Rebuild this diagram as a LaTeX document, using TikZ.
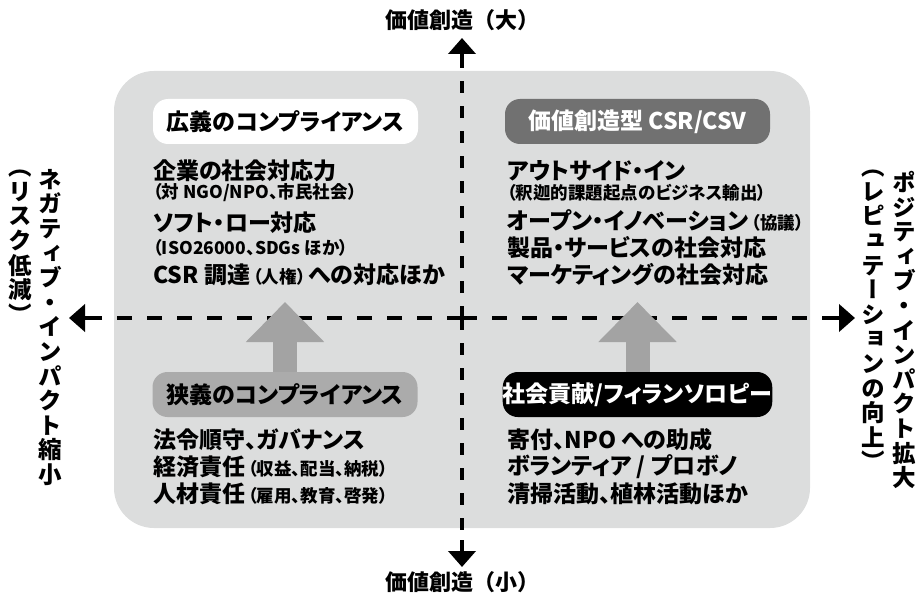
\documentclass[tikz,border=0pt]{standalone}
\usepackage{fontspec}
\setmainfont{Noto Sans CJK JP}[RawFeature=+palt]
\newfontfamily\fwfont{Noto Sans CJK JP}
\newfontfamily\vtfont{Noto Sans CJK JP}[RawFeature=+vert]
\usetikzlibrary{arrows.meta}
\definecolor{bggray}{HTML}{DCDDDD}
\definecolor{darklab}{HTML}{717171}
\definecolor{midlab}{HTML}{ABABAB}
\definecolor{arrowgray}{HTML}{A3A3A3}
\newcommand\szL{\fontsize{23pt}{27pt}\selectfont}
\newcommand\szS{\fontsize{17.5pt}{21pt}\selectfont}
\newcommand\szT{\fontsize{22pt}{26pt}\selectfont}
\newcommand\szV{\fontsize{23.5pt}{24.6pt}\selectfont}
\newcommand\smallparen[1]{\kern3pt{\szS（#1）}\kern3pt}
\tikzset{
  lab/.style={rounded corners=15pt, minimum width=265pt, minimum height=45pt, inner sep=0pt, font=\bfseries\szL},
  txt/.style={anchor=west, inner sep=0pt, font=\bfseries\szL},
  stxt/.style={anchor=west, inner sep=0pt, font=\bfseries\szS},
  vtext/.style={anchor=north, align=center, inner sep=0pt, font=\vtfont\bfseries\szV},
  axisline/.style={line width=4.5pt, black},
  tip/.style={-{Triangle[length=16pt,width=27pt]}},
  uparrow/.style={line width=24pt, arrowgray, -{Triangle[length=40pt,width=76pt]}},
}
\begin{document}
\begin{tikzpicture}[x=1pt,y=-1pt]
\useasboundingbox (0,0) rectangle (921,604);
% background panel
\fill[bggray, rounded corners=40pt] (114,71) rectangle (810,528);

% axes
\coordinate (O) at (462,318);
\coordinate (L) at (69,318);
\coordinate (Ls) at (97,318);
\coordinate (R) at (855,318);
\coordinate (Rs) at (828,318);
\coordinate (T) at (462,38);
\coordinate (Ts) at (462,65);
\coordinate (B) at (462,567);
\coordinate (Bs) at (462,540);
\draw[axisline, dash pattern=on 15pt off 15pt] (O) -- (Ls);
\draw[axisline, dash pattern=on 15pt off 15pt] (O) -- (Rs);
\draw[axisline, dash pattern=on 12pt off 13pt] (O) -- (Ts);
\draw[axisline, dash pattern=on 12pt off 13pt] (O) -- (Bs);
\draw[axisline, tip] (Ls) -- (L);
\draw[axisline, tip] (Rs) -- (R);
\draw[axisline, tip] (Ts) -- (T);
\draw[axisline, tip] (Bs) -- (B);

% titles
\node[inner sep=0pt, font=\fwfont\bfseries\szT] (top) at (462,20) {価値創造（大）};
\node[inner sep=0pt, font=\fwfont\bfseries\szT] (bot) at (462,582) {価値創造（小）};

% vertical side labels
\node[vtext] (neg) at (50,169) {ネ\\ガ\\テ\\ィ\\ブ\\・\\イ\\ン\\パ\\ク\\ト\\縮\\小};
\node[vtext] (negp) at (20,170) {（\\リ\\ス\\ク\\低\\減\\）};
\node[vtext] (pos) at (904,171) {ポ\\ジ\\テ\\ィ\\ブ\\・\\イ\\ン\\パ\\ク\\ト\\拡\\大};
\node[vtext] (posp) at (873,170) {（\\レ\\ピ\\ュ\\テ\\ー\\シ\\ョ\\ン\\の\\向\\上\\）};

% labels
\node[lab, fill=white] (wide) at (285.5,121.5) {広義のコンプライアンス};
\node[lab, fill=darklab, text=white] (csv) at (637.5,121.5) {価値創造型 CSR/CSV};
\node[lab, fill=midlab] (narrow) at (285,394.5) {狭義のコンプライアンス};
\node[lab, fill=black, text=white] (phil) at (637.5,394.5) {社会貢献/フィランソロピー};

% gray arrows
\coordinate (ua) at (285,302);
\coordinate (ub) at (637.5,302);
\draw[uparrow] (narrow.north) -- (ua);
\draw[uparrow] (phil.north) -- (ub);

% top-left text
\node[txt] (tl1) at (153,171) {企業の社会対応力};
\node[stxt] (tl2) at (153,193) {（対 NGO/NPO、市民社会）};
\node[txt] (tl3) at (153,223) {ソフト・ロー対応};
\node[stxt] (tl4) at (153,248) {（ISO26000、SDGs ほか）};
\node[txt] (tl5) at (153,275) {CSR 調達\smallparen{人権}への対応ほか};

% top-right text
\node[txt] (tr1) at (507,171) {アウトサイド・イン};
\node[stxt] (tr2) at (507,193) {（釈迦的課題起点のビジネス輸出）};
\node[txt] (tr3) at (507,221) {オープン・イノベーション\smallparen{協議}};
\node[txt] (tr4) at (507,248) {製品・サービスの社会対応};
\node[txt] (tr5) at (507,275) {マーケティングの社会対応};

% bottom-left text
\node[txt] (bl1) at (153,440) {法令順守、ガバナンス};
\node[txt] (bl2) at (153,467) {経済責任\smallparen{収益、配当、納税}};
\node[txt] (bl3) at (153,494) {人材責任\smallparen{雇用、教育、啓発}};

% bottom-right text
\node[txt] (br1) at (507,440) {寄付、NPO への助成};
\node[txt] (br2) at (507,467) {ボランティア / プロボノ};
\node[txt] (br3) at (507,494) {清掃活動、植林活動ほか};
\end{tikzpicture}
\end{document}
